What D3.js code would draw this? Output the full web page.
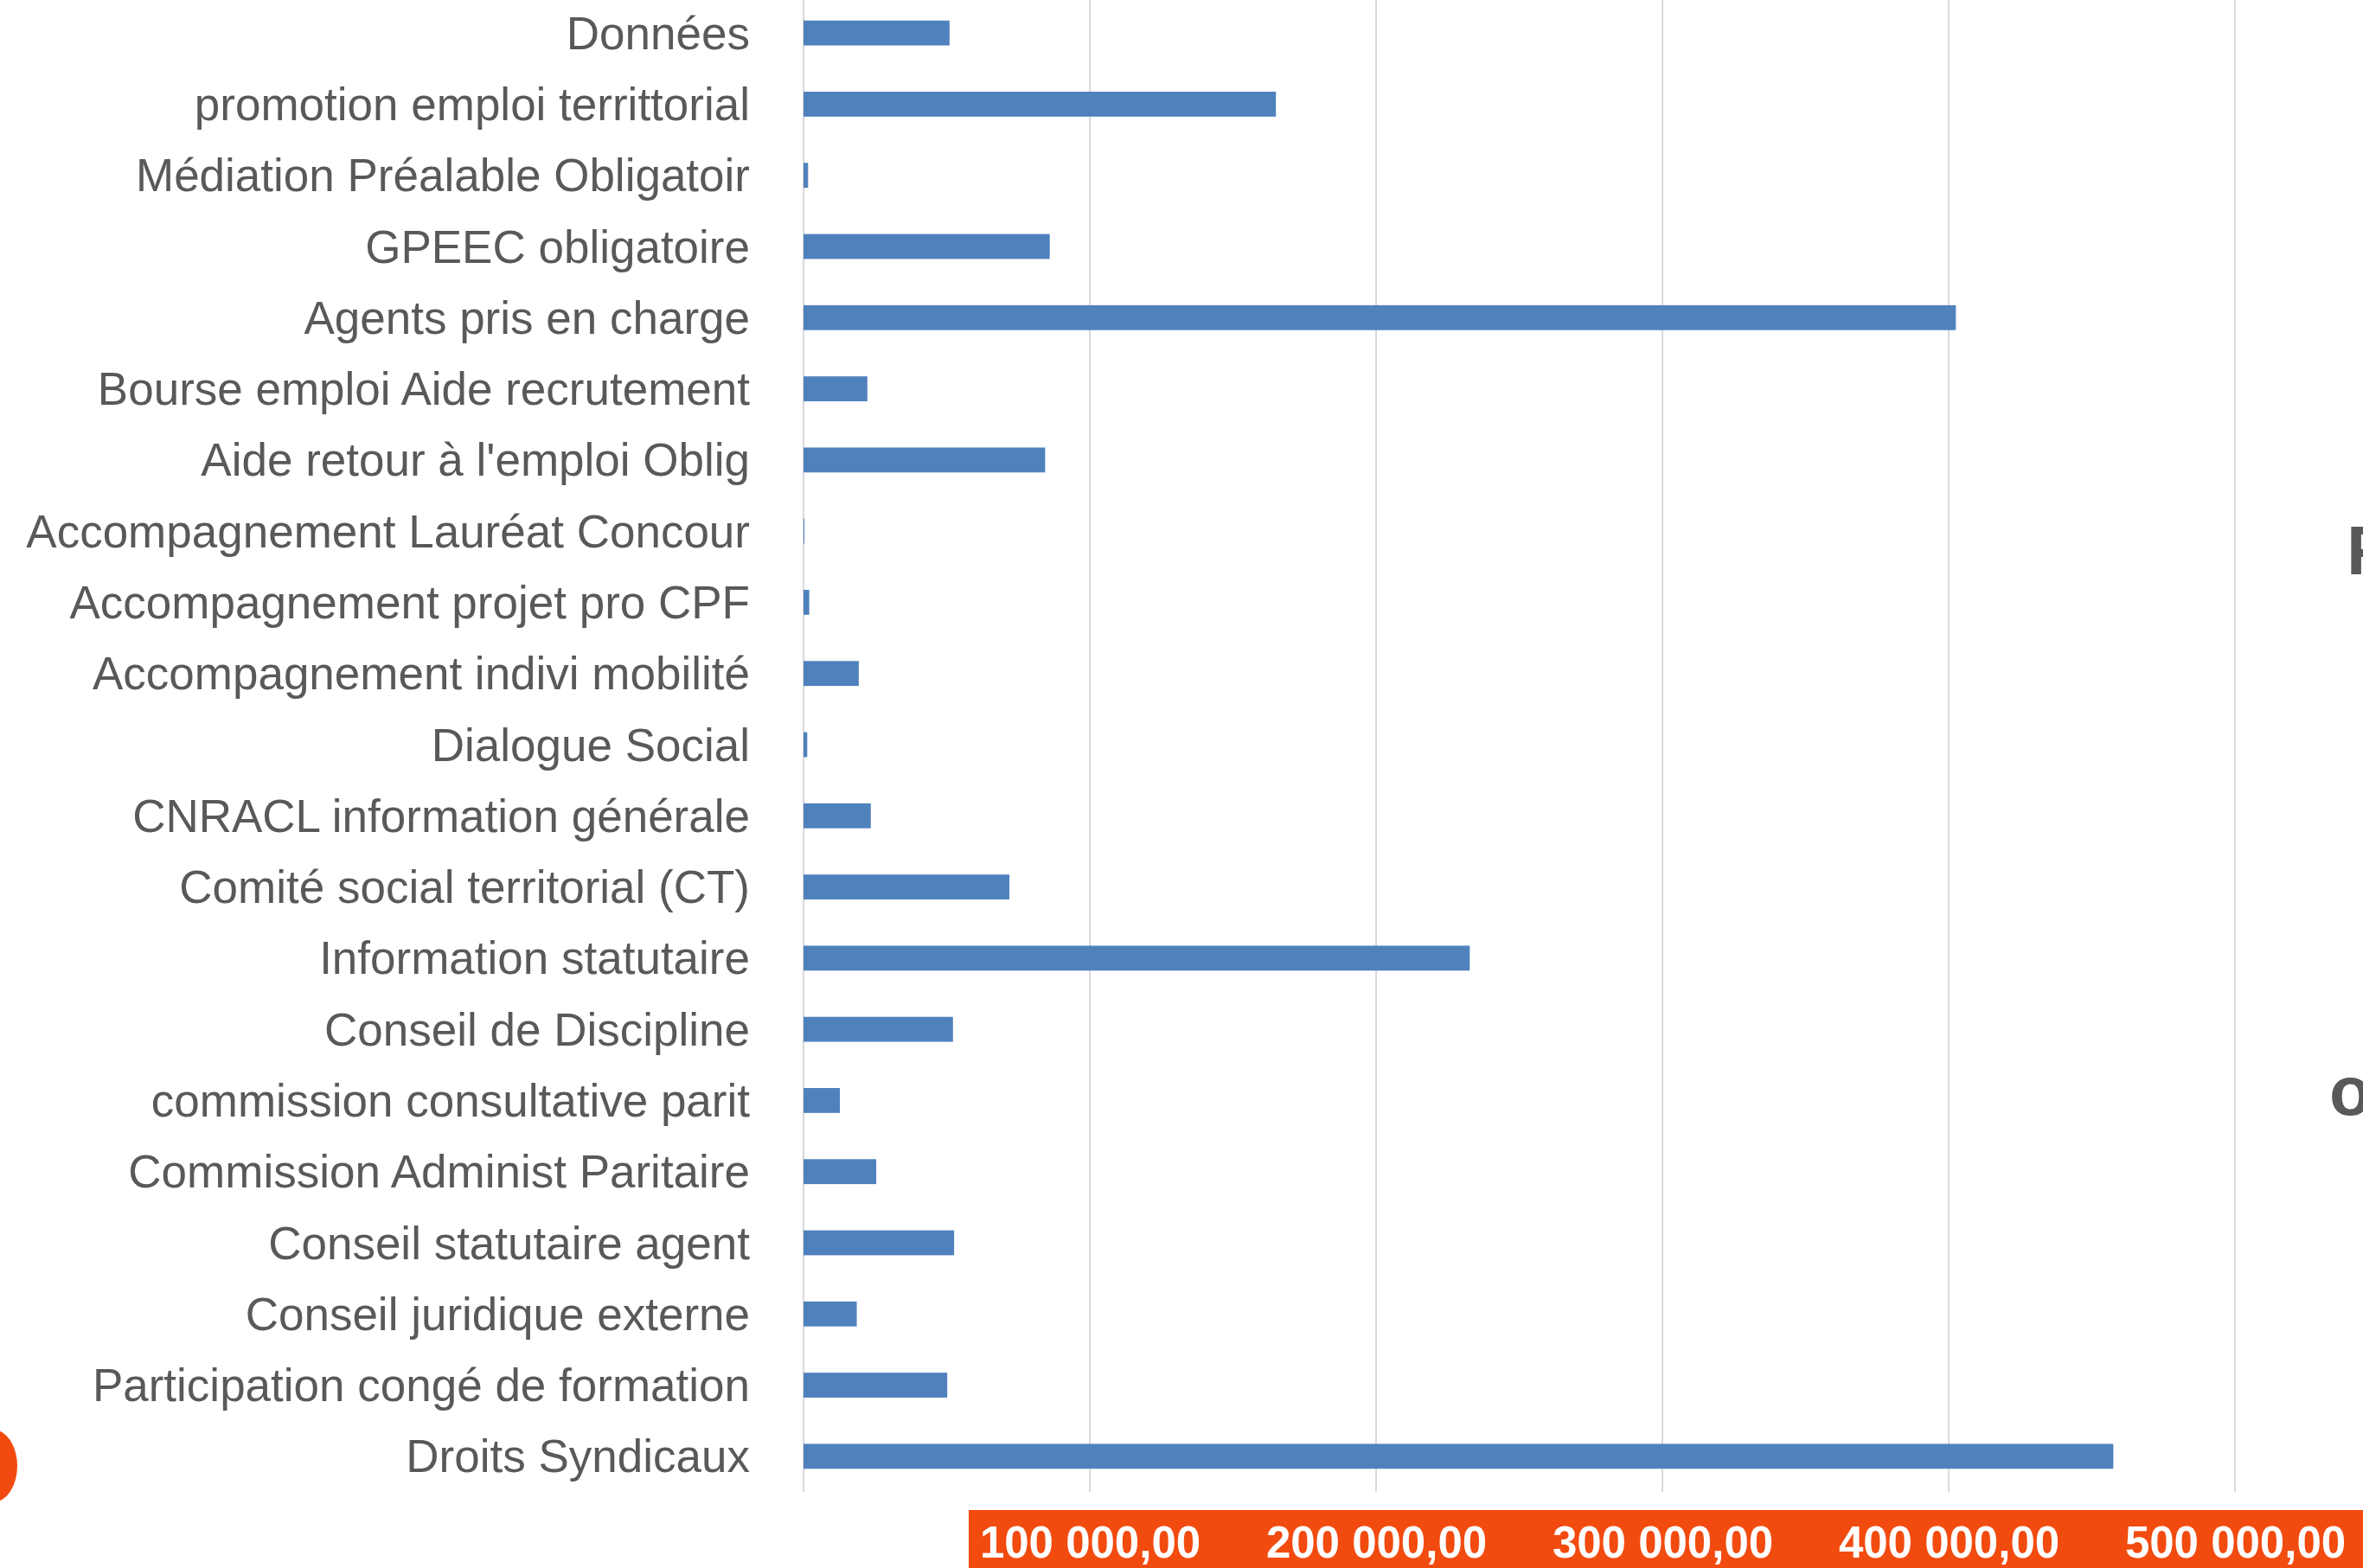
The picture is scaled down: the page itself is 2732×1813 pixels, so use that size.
<!DOCTYPE html>
<html>
<head>
<meta charset="utf-8">
<script src="https://cdn.jsdelivr.net/npm/d3@7"></script>
<style>
  html, body { margin: 0; padding: 0; background: #ffffff; overflow: hidden; }
  svg { display: block; }
</style>
</head>
<body>
<svg id="chart" width="2732" height="1813"></svg>
<script>
const categories = [
  "Données",
  "promotion emploi territtorial",
  "Médiation Préalable Obligatoir",
  "GPEEC obligatoire",
  "Agents pris en charge",
  "Bourse emploi Aide recrutement",
  "Aide retour à l'emploi Oblig",
  "Accompagnement Lauréat Concour",
  "Accompagnement projet pro CPF",
  "Accompagnement indivi mobilité",
  "Dialogue Social",
  "CNRACL information générale",
  "Comité social territorial (CT)",
  "Information statutaire",
  "Conseil de Discipline",
  "commission consultative parit",
  "Commission Administ Paritaire",
  "Conseil statutaire agent",
  "Conseil juridique externe",
  "Participation congé de formation",
  "Droits Syndicaux"
];
const values = [
  51000, 165000, 1600, 86000, 402500, 22300, 84400, 300, 2000, 19300,
  1300, 23500, 71900, 232700, 52200, 12700, 25400, 52600, 18600, 50200, 457500
];
const xTickValues = [100000, 200000, 300000, 400000, 500000];
const gridValues = [0, 100000, 200000, 300000, 400000, 500000];
const sideLetters = ["F", "o"];

const svg = d3.select("#chart");
const fr = d3.formatLocale({decimal: ",", thousands: " ", grouping: [3], currency: ["", " €"]});
const fmt = fr.format(",.2f");

const x = d3.scaleLinear().domain([0, 500000]).range([929, 2584]);
const y = d3.scaleBand().domain(categories).range([-3, 1725])
  .paddingInner(0.65).paddingOuter(0.325);

// gridlines
svg.append("g").selectAll("line").data(gridValues).join("line")
  .attr("x1", d => x(d)).attr("x2", d => x(d))
  .attr("y1", 0).attr("y2", 1725)
  .attr("stroke", "#d9d9d9").attr("stroke-width", 2);

// bars
svg.append("g").selectAll("rect").data(values).join("rect")
  .attr("x", x(0))
  .attr("y", (d, i) => y(categories[i]))
  .attr("width", d => x(d) - x(0))
  .attr("height", y.bandwidth())
  .attr("fill", "#4f81bd");

// category labels
svg.append("g").selectAll("text").data(categories).join("text")
  .attr("x", 867)
  .attr("y", d => y(d) + y.bandwidth() / 2)
  .attr("dy", "0.35em")
  .attr("text-anchor", "end")
  .attr("font-family", "Liberation Sans, Arial, sans-serif")
  .attr("font-size", 53)
  .attr("fill", "#595959")
  .text(d => d);

// orange band behind the x axis labels
svg.append("rect")
  .attr("x", 1120).attr("y", 1746)
  .attr("width", 2732 - 1120).attr("height", 1813 - 1746)
  .attr("fill", "#f24b0f");

// x axis
const xAxis = d3.axisBottom(x).tickValues(xTickValues).tickFormat(fmt).tickSize(0);
const gx = svg.append("g").attr("transform", "translate(0,1725)").call(xAxis);
gx.select(".domain").remove();
gx.selectAll("text")
  .attr("y", 76).attr("dy", 0)
  .attr("font-family", "Liberation Sans, Arial, sans-serif")
  .attr("font-weight", "bold")
  .attr("font-size", 51)
  .attr("fill", "#ffffff");

// orange blob at the left edge
svg.append("ellipse")
  .attr("cx", -8).attr("cy", 1695).attr("rx", 28).attr("ry", 42)
  .attr("fill", "#f24b0f");

// cut-off text on the right edge
svg.append("text").attr("x", 2713).attr("y", 664)
  .attr("font-family", "Liberation Sans, Arial, sans-serif")
  .attr("font-weight", "bold").attr("font-size", 80).attr("fill", "#595959")
  .text(sideLetters[0]);
svg.append("text").attr("x", 2693).attr("y", 1289)
  .attr("font-family", "Liberation Sans, Arial, sans-serif")
  .attr("font-weight", "bold").attr("font-size", 80).attr("fill", "#595959")
  .text(sideLetters[1]);
</script>
</body>
</html>
